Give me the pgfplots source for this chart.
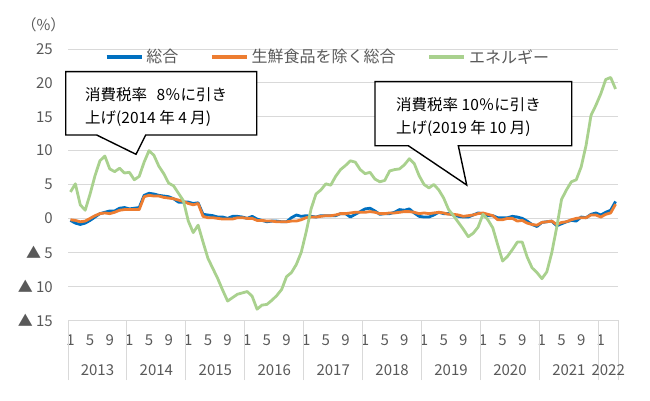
\documentclass[border=0pt]{standalone}
\usepackage{pgfplots}
\pgfplotsset{compat=1.18}
\usepackage{pgfplotstable}
\usepackage{fontspec}
\setmainfont{Noto Sans CJK JP}
\definecolor{cblue}{RGB}{0,112,192}
\definecolor{corange}{RGB}{237,125,49}
\definecolor{cgreen}{RGB}{169,209,142}
\definecolor{tgray}{RGB}{89,89,89}
\definecolor{ggray}{RGB}{217,217,217}

% monthly y/y %, Jan 2013 - Apr 2022
\pgfplotstableread{
tot core ene
-0.3 -0.2 3.9
-0.7 -0.3 5.1
-0.9 -0.5 2.0
-0.7 -0.4 1.2
-0.3 0.0 3.6
0.2 0.4 6.3
0.7 0.7 8.5
0.9 0.8 9.2
1.1 0.7 7.3
1.1 0.9 6.9
1.5 1.2 7.4
1.6 1.3 6.7
1.4 1.3 6.8
1.5 1.3 5.7
1.6 1.3 6.2
3.4 3.2 8.3
3.7 3.4 10.0
3.6 3.3 9.3
3.4 3.3 7.7
3.3 3.1 6.6
3.2 3.0 5.2
2.9 2.9 4.8
2.4 2.7 3.7
2.4 2.5 2.6
2.4 2.2 -0.4
2.2 2.0 -2.1
2.3 2.2 -1.0
0.6 0.3 -3.5
0.5 0.1 -5.9
0.4 0.1 -7.4
0.2 0.0 -8.9
0.2 -0.1 -10.6
0.0 -0.1 -12.2
0.3 -0.1 -11.7
0.3 0.1 -11.2
0.2 0.1 -11.0
0.0 0.0 -10.8
0.3 0.0 -11.5
-0.1 -0.3 -13.4
-0.3 -0.3 -12.8
-0.5 -0.4 -12.7
-0.4 -0.4 -12.1
-0.4 -0.5 -11.4
-0.5 -0.5 -10.5
-0.5 -0.5 -8.6
0.1 -0.4 -8.0
0.5 -0.4 -6.8
0.3 -0.2 -5.0
0.4 0.1 -2.0
0.3 0.2 1.4
0.2 0.2 3.6
0.4 0.3 4.2
0.4 0.4 5.1
0.4 0.4 4.9
0.4 0.5 6.2
0.7 0.7 7.2
0.7 0.7 7.8
0.2 0.8 8.5
0.6 0.9 8.3
1.0 0.9 7.2
1.4 0.9 6.6
1.5 1.0 6.8
1.1 0.9 5.8
0.6 0.7 5.4
0.7 0.7 5.6
0.7 0.8 7.0
0.9 0.8 7.2
1.3 0.9 7.3
1.2 1.0 7.9
1.4 1.0 8.8
0.8 0.9 8.1
0.3 0.7 6.3
0.2 0.8 5.0
0.2 0.7 4.5
0.5 0.8 5.0
0.9 0.9 4.2
0.7 0.8 3.0
0.7 0.6 1.3
0.5 0.6 0.4
0.3 0.5 -0.6
0.2 0.3 -1.6
0.2 0.4 -2.7
0.5 0.5 -2.2
0.8 0.7 -1.3
0.7 0.8 0.6
0.4 0.6 -0.2
0.4 0.4 -1.4
0.1 -0.2 -3.9
0.1 -0.2 -6.3
0.1 0.0 -5.6
0.3 0.0 -4.6
0.2 -0.4 -3.5
0.0 -0.3 -3.5
-0.4 -0.7 -5.7
-0.9 -0.9 -7.3
-1.2 -1.0 -8.0
-0.6 -0.6 -8.9
-0.5 -0.5 -7.9
-0.4 -0.4 -5.1
-1.1 -0.9 -1.4
-0.8 -0.6 2.8
-0.5 -0.5 4.2
-0.3 -0.2 5.4
-0.4 0.0 5.7
0.2 0.1 7.6
0.1 0.1 10.8
0.6 0.5 15.2
0.8 0.5 16.7
0.5 0.2 18.4
0.9 0.6 20.5
1.2 0.8 20.8
2.5 2.1 19.1
}\cpi

\begin{document}
\begin{tikzpicture}
\begin{axis}[
  at={(68bp,-320bp)}, anchor=south west,
  scale only axis, width=550bp, height=271bp,
  xmin=-0.5, xmax=111.5, ymin=-15, ymax=25,
  clip=false,
  axis line style={draw=none},
  ymajorgrids, grid style={ggray, line width=0.9bp},
  major tick length=0pt,
  xtick pos=lower, ytick pos=left,
  ytick={-15,-10,...,25},
  yticklabels={▲ 15,▲ 10,▲ 5,0,5,10,15,20,25},
  yticklabel style={anchor=east, inner sep=0pt, xshift=-15bp, text=tgray, font=\fontsize{15bp}{18bp}\selectfont},
  xtick={0,4,...,108},
  xticklabels={1,5,9,1,5,9,1,5,9,1,5,9,1,5,9,1,5,9,1,5,9,1,5,9,1,5,9,1},
  xticklabel style={anchor=center, inner sep=0pt, yshift=-20bp, text=tgray, font=\fontsize{15bp}{18bp}\selectfont},
  extra x ticks={-0.5,11.5,23.5,35.5,47.5,59.5,71.5,83.5,95.5,107.5,111.5},
  extra x tick labels={},
  extra x tick style={major tick length=60bp, tick align=outside, tick style={ggray, line width=0.9bp}},
  legend columns=3,
  legend style={at={(0.4727,0.9705)}, anchor=center, draw=none, fill=none,
    font=\fontsize{16bp}{19bp}\selectfont, text=tgray,
    /tikz/every odd column/.append style={column sep=1bp},
    /tikz/every even column/.append style={column sep=30bp}},
  legend image code/.code={\draw[line width=3.5bp] (0bp,0bp) -- (35bp,0bp);},
  every axis plot/.append style={line width=2.8bp, line join=round},
]
\addplot[cblue] table[x expr=\coordindex, y=tot] {\cpi};
\addplot[corange] table[x expr=\coordindex, y=core] {\cpi};
\addplot[cgreen] table[x expr=\coordindex, y=ene] {\cpi};
\legend{総合,生鮮食品を除く総合,エネルギー}
\node[yshift=-50bp, text=tgray, font=\fontsize{15bp}{18bp}\selectfont] at (axis cs:5.5,-15) {2013};
\node[yshift=-50bp, text=tgray, font=\fontsize{15bp}{18bp}\selectfont] at (axis cs:17.5,-15) {2014};
\node[yshift=-50bp, text=tgray, font=\fontsize{15bp}{18bp}\selectfont] at (axis cs:29.5,-15) {2015};
\node[yshift=-50bp, text=tgray, font=\fontsize{15bp}{18bp}\selectfont] at (axis cs:41.5,-15) {2016};
\node[yshift=-50bp, text=tgray, font=\fontsize{15bp}{18bp}\selectfont] at (axis cs:53.5,-15) {2017};
\node[yshift=-50bp, text=tgray, font=\fontsize{15bp}{18bp}\selectfont] at (axis cs:65.5,-15) {2018};
\node[yshift=-50bp, text=tgray, font=\fontsize{15bp}{18bp}\selectfont] at (axis cs:77.5,-15) {2019};
\node[yshift=-50bp, text=tgray, font=\fontsize{15bp}{18bp}\selectfont] at (axis cs:89.5,-15) {2020};
\node[yshift=-50bp, text=tgray, font=\fontsize{15bp}{18bp}\selectfont] at (axis cs:101.5,-15) {2021};
\node[yshift=-50bp, text=tgray, font=\fontsize{15bp}{18bp}\selectfont] at (axis cs:109.5,-15) {2022};
\end{axis}
\begin{scope}[x=1bp, y=-1bp]
\path[use as bounding box] (0,0) rectangle (650,396);
\node[text=tgray, font=\fontsize{15bp}{18bp}\selectfont] at (43.5,25) {（\%）};
% callout 1
\draw[black, line width=1.4bp, fill=white, line join=miter]
  (65.7,71.7) -- (256.7,71.7) -- (256.7,135) -- (145.7,135) -- (136,154.3) -- (96.7,135) -- (65.7,135) -- cycle;
\node[anchor=west, inner sep=0pt, font=\fontsize{15.5bp}{18bp}\selectfont] at (85,95) {消費税率\hspace{0.6em}8％に引き};
\node[anchor=west, inner sep=0pt, font=\fontsize{15.5bp}{18bp}\selectfont] at (85,118) {上げ(2014 年 4 月)};
% callout 2
\draw[black, line width=1.4bp, fill=white, line join=miter]
  (375,81.7) -- (571.7,81.7) -- (571.7,145.7) -- (458.3,145.7) -- (466.7,185) -- (408.3,145.7) -- (375,145.7) -- cycle;
\node[anchor=west, inner sep=0pt, font=\fontsize{15.5bp}{18bp}\selectfont] at (396,105) {消費税率 10％に引き};
\node[anchor=west, inner sep=0pt, font=\fontsize{15.5bp}{18bp}\selectfont] at (396,128) {上げ(2019 年 10 月)};
\end{scope}
\end{tikzpicture}
\end{document}
